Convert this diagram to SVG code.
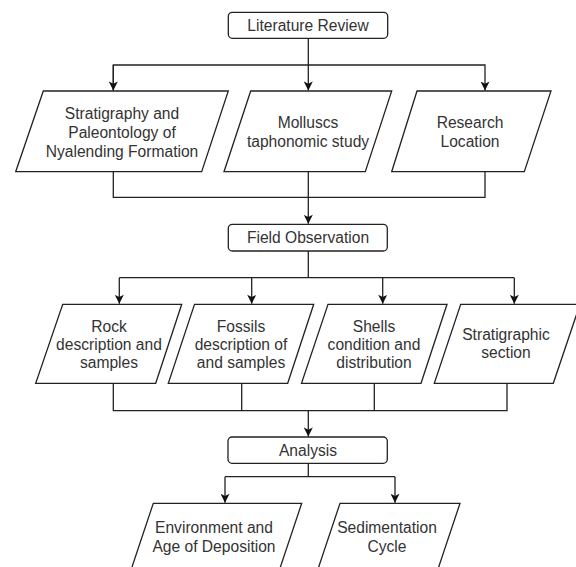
<svg xmlns="http://www.w3.org/2000/svg" width="576" height="567" viewBox="0 0 576 567">
<style>
.box{fill:#fff;stroke:#222;stroke-width:1.3}
.t{font-family:"Liberation Sans",Arial,sans-serif;font-size:15.6px;fill:#333;text-anchor:middle}
.c{fill:none;stroke:#222;stroke-width:1.3}
</style>
<defs>
<marker id="ah" viewBox="0 0 10 10" refX="10" refY="5" markerWidth="10" markerHeight="9" markerUnits="userSpaceOnUse" orient="auto">
<path d="M0,0 L10,5 L0,10 L2.5,5 Z" fill="#111"/>
</marker>
</defs>
<rect width="576" height="567" fill="#fff"/>
<g id="connectors">
<path class="c" d="M308.3,38.3 V90.5" marker-end="url(#ah)"/>
<path class="c" d="M113.3,90.5 V65 H485 V90.5" marker-end="url(#ah)"/>
<path class="c" d="M113.3,65 V90.5" marker-end="url(#ah)"/>
<path class="c" d="M113.3,171.7 V197.3 H485 V171.7"/>
<path class="c" d="M308.3,171.7 V223.8" marker-end="url(#ah)"/>
<path class="c" d="M308.3,251 V277.7"/>
<path class="c" d="M119.3,277.7 H514.3"/>
<path class="c" d="M119.3,277.7 V303.8" marker-end="url(#ah)"/>
<path class="c" d="M251.7,277.7 V303.8" marker-end="url(#ah)"/>
<path class="c" d="M382.7,277.7 V303.8" marker-end="url(#ah)"/>
<path class="c" d="M514.3,277.7 V303.8" marker-end="url(#ah)"/>
<path class="c" d="M113.3,383.3 V410.7 H507 V383.3"/>
<path class="c" d="M241.7,383.3 V410.7"/>
<path class="c" d="M374.3,383.3 V410.7"/>
<path class="c" d="M308.3,410.7 V436.5" marker-end="url(#ah)"/>
<path class="c" d="M308.3,463.3 V476.7"/>
<path class="c" d="M225,476.7 H395"/>
<path class="c" d="M225,476.7 V502.8" marker-end="url(#ah)"/>
<path class="c" d="M395,476.7 V502.8" marker-end="url(#ah)"/>
</g>
<g id="literature-review">
<rect class="box" x="228.3" y="12.3" width="159.4" height="26" rx="4"/>
<text class="t" x="308" y="30.8">Literature Review</text>
</g>
<g id="stratigraphy">
<polygon class="box" points="43.3,91 228.3,91 201.7,171.7 15.7,171.7"/>
<text class="t" x="122" y="119">Stratigraphy and</text>
<text class="t" x="122" y="137.8">Paleontology of</text>
<text class="t" x="122" y="156.6">Nyalending Formation</text>
</g>
<g id="molluscs">
<polygon class="box" points="250.7,91 391.7,91 365.3,171.7 224,171.7"/>
<text class="t" x="308" y="128.3">Molluscs</text>
<text class="t" x="308" y="147">taphonomic study</text>
</g>
<g id="research-location">
<polygon class="box" points="417,91 551,91 524.3,171.7 391.7,171.7"/>
<text class="t" x="470" y="128.3">Research</text>
<text class="t" x="470" y="147">Location</text>
</g>
<g id="field-observation">
<rect class="box" x="228.3" y="224.3" width="159" height="26.7" rx="4"/>
<text class="t" x="308" y="243.3">Field Observation</text>
</g>
<g id="rock">
<polygon class="box" points="62.7,304.3 181.7,304.3 155.7,383.3 35.7,383.3"/>
<text class="t" x="109" y="331.7">Rock</text>
<text class="t" x="109" y="350">description and</text>
<text class="t" x="109" y="368.3">samples</text>
</g>
<g id="fossils">
<polygon class="box" points="194.5,304.3 313.7,304.3 287.7,383.3 168.3,383.3"/>
<text class="t" x="241" y="331.7">Fossils</text>
<text class="t" x="241" y="350">description of</text>
<text class="t" x="241" y="368.3">and samples</text>
</g>
<g id="shells">
<polygon class="box" points="328,304.3 447,304.3 421,383.3 301.5,383.3"/>
<text class="t" x="374" y="331.7">Shells</text>
<text class="t" x="374" y="350">condition and</text>
<text class="t" x="374" y="368.3">distribution</text>
</g>
<g id="stratigraphic-section">
<polygon class="box" points="460.7,304.3 580,304.3 553.3,383.3 434.3,383.3"/>
<text class="t" x="506" y="340">Stratigraphic</text>
<text class="t" x="506" y="358.3">section</text>
</g>
<g id="analysis">
<rect class="box" x="228" y="437" width="159.3" height="26.3" rx="4"/>
<text class="t" x="308" y="455.7">Analysis</text>
</g>
<g id="environment">
<polygon class="box" points="153.3,503.3 301.7,503.3 274.7,584 126.3,584"/>
<text class="t" x="214" y="532.7">Environment and</text>
<text class="t" x="214" y="551.7">Age of Deposition</text>
</g>
<g id="sedimentation">
<polygon class="box" points="340,503.3 460,503.3 433,584 313,584"/>
<text class="t" x="387" y="532.7">Sedimentation</text>
<text class="t" x="387" y="551.7">Cycle</text>
</g>
</svg>
